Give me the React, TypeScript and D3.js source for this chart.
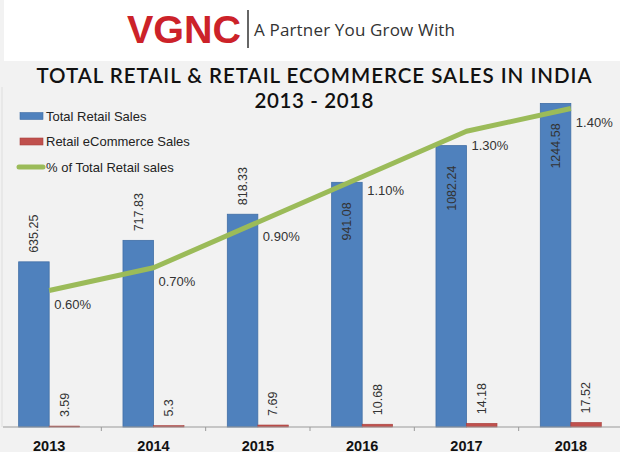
import React, { useEffect, useRef } from 'react';
import * as d3 from 'd3';

const years = ['2013', '2014', '2015', '2016', '2017', '2018'];
const totalRetail = [635.25, 717.83, 818.33, 941.08, 1082.24, 1244.58];
const ecommerce = [3.59, 5.3, 7.69, 10.68, 14.18, 17.52];
const ecomShare = [0.6, 0.7, 0.9, 1.1, 1.3, 1.4];
const seriesNames = ['Total Retail Sales', 'Retail eCommerce Sales', '% of Total Retail sales'];

const W = 620;
const H = 468;
const BLUE = '#4f81bd';
const RED = '#c0504d';
const GREEN = '#9bbb59';

const App: React.FC = () => {
  const svgRef = useRef<SVGSVGElement>(null);

  useEffect(() => {
    if (!svgRef.current) return;
    const svg = d3.select(svgRef.current);
    svg.selectAll('*').remove();

    const base = 427;
    const top = 63;

    // backgrounds
    svg.append('rect').attr('width', W).attr('height', H).attr('fill', '#f2f2f2');
    svg.append('rect').attr('x', 4).attr('y', 0).attr('width', W - 4).attr('height', 61).attr('fill', '#fff');
    svg.append('rect').attr('x', 0).attr('y', 452).attr('width', W).attr('height', H - 452).attr('fill', '#fff');
    svg.append('line')
      .attr('x1', 2).attr('x2', 2).attr('y1', 87).attr('y2', base)
      .attr('stroke', '#dedede').attr('stroke-width', 1);

    // header
    svg.append('text')
      .attr('x', 127).attr('y', 43)
      .attr('font-family', '"Liberation Sans", Arial, sans-serif')
      .attr('font-weight', 'bold')
      .attr('font-size', 39.5)
      .attr('fill', '#cc2229')
      .text('VGNC');
    svg.append('line')
      .attr('x1', 248).attr('x2', 248).attr('y1', 10).attr('y2', 48)
      .attr('stroke', '#333').attr('stroke-width', 1.5);
    svg.append('text')
      .attr('x', 254).attr('y', 36)
      .attr('font-family', '"Open Sans", sans-serif')
      .attr('font-size', 17)
      .attr('fill', '#333')
      .attr('textLength', 201)
      .text('A Partner You Grow With');

    // title
    const title = svg.append('g')
      .attr('font-family', 'Lato, "Open Sans", sans-serif')
      .attr('font-weight', 600)
      .attr('font-size', 20.5)
      .attr('fill', '#111')
      .attr('text-anchor', 'middle');
    title.append('text').attr('x', 314).attr('y', 82.5).attr('textLength', 555)
      .text('TOTAL RETAIL & RETAIL ECOMMERCE SALES IN INDIA');
    title.append('text').attr('x', 314).attr('y', 107.5).attr('textLength', 119)
      .text('2013 - 2018');

    // scales
    const x = d3.scaleBand<string>()
      .domain(years)
      .range([-3, 623])
      .paddingInner(0.415)
      .paddingOuter(0.2075);
    const x1 = d3.scaleBand<string>()
      .domain(['total', 'ecom'])
      .range([0, x.bandwidth()]);
    const y = d3.scaleLinear().domain([0, 1400]).range([base, top]);
    const yPct = d3.scaleLinear().domain([0, 1.6]).range([base, top]);
    const center = (yr: string) => (x(yr) || 0) + x.bandwidth() / 2;

    // bars
    const font = '"Liberation Sans", Arial, sans-serif';
    const g = svg.append('g');
    g.selectAll('.total')
      .data(years)
      .enter()
      .append('rect')
      .attr('x', d => (x(d) || 0) + (x1('total') || 0))
      .attr('width', x1.bandwidth())
      .attr('y', (_d, i) => y(totalRetail[i]))
      .attr('height', (_d, i) => base - y(totalRetail[i]))
      .attr('fill', BLUE)
      .attr('stroke', '#416fa6')
      .attr('stroke-width', 0.8);
    g.selectAll('.ecom')
      .data(years)
      .enter()
      .append('rect')
      .attr('x', d => (x(d) || 0) + (x1('ecom') || 0))
      .attr('width', x1.bandwidth())
      .attr('y', (_d, i) => y(ecommerce[i]))
      .attr('height', (_d, i) => base - y(ecommerce[i]))
      .attr('fill', RED)
      .attr('stroke', '#a8403d')
      .attr('stroke-width', 0.6);

    // axis
    svg.append('line')
      .attr('x1', 3).attr('x2', W).attr('y1', base).attr('y2', base)
      .attr('stroke', '#9a9a9a').attr('stroke-width', 1.2);
    years.slice(1).forEach((_yr, i) => {
      const bx = -3 + x.step() * (i + 1);
      svg.append('line')
        .attr('x1', bx).attr('x2', bx).attr('y1', base).attr('y2', base + 4)
        .attr('stroke', '#9a9a9a').attr('stroke-width', 1);
    });
    svg.append('g')
      .selectAll('text')
      .data(years)
      .enter()
      .append('text')
      .attr('x', d => center(d))
      .attr('y', 451)
      .attr('text-anchor', 'middle')
      .attr('font-family', font)
      .attr('font-weight', 'bold')
      .attr('font-size', 14.5)
      .attr('fill', '#111')
      .text(d => d);

    // bar value labels (rotated)
    const labels = svg.append('g')
      .attr('font-family', font)
      .attr('font-size', 12.5)
      .attr('fill', '#333');
    years.forEach((yr, i) => {
      const cx = (x(yr) || 0) + (x1('total') || 0) + x1.bandwidth() / 2;
      const inside = totalRetail[i] > 900;
      const ty = inside ? y(totalRetail[i]) + 20 : y(totalRetail[i]) - 9;
      labels.append('text')
        .attr('transform', `translate(${cx},${ty}) rotate(-90)`)
        .attr('dy', '0.35em')
        .attr('text-anchor', inside ? 'end' : 'start')
        .text(String(totalRetail[i]));
      const ex = (x(yr) || 0) + (x1('ecom') || 0) + x1.bandwidth() / 2;
      labels.append('text')
        .attr('transform', `translate(${ex},${y(ecommerce[i]) - 9}) rotate(-90)`)
        .attr('dy', '0.35em')
        .attr('text-anchor', 'start')
        .text(String(ecommerce[i]));
    });

    // share line
    const line = d3.line<number>()
      .x((_d, i) => center(years[i]))
      .y(d => yPct(d));
    svg.append('path')
      .datum(ecomShare)
      .attr('d', line)
      .attr('fill', 'none')
      .attr('stroke', GREEN)
      .attr('stroke-width', 5)
      .attr('stroke-linejoin', 'round');
    svg.append('g')
      .attr('font-family', font)
      .attr('font-size', 13)
      .attr('fill', '#333')
      .selectAll('text')
      .data(ecomShare)
      .enter()
      .append('text')
      .attr('x', (_d, i) => center(years[i]) + 5)
      .attr('y', d => yPct(d) + 14)
      .attr('dy', '0.35em')
      .text(d => d3.format('.2f')(d) + '%');

    // legend
    const legend = svg.append('g').attr('font-family', font).attr('font-size', 13).attr('fill', '#222');
    seriesNames.forEach((name, i) => {
      const ly = 116 + i * 25.5;
      if (i < 2) {
        legend.append('rect')
          .attr('x', 20).attr('y', ly - 3.5).attr('width', 23).attr('height', 7)
          .attr('fill', i === 0 ? BLUE : RED)
          .attr('stroke', i === 0 ? '#416fa6' : '#a8403d')
          .attr('stroke-width', 0.6);
      } else {
        legend.append('line')
          .attr('x1', 19).attr('x2', 43).attr('y1', ly).attr('y2', ly)
          .attr('stroke', GREEN).attr('stroke-width', 5).attr('stroke-linecap', 'round');
      }
      legend.append('text').attr('x', 46).attr('y', ly).attr('dy', '0.35em').text(name);
    });
  }, []);

  return (
    <svg
      ref={svgRef}
      width={W}
      height={H}
      style={{ position: 'absolute', left: 0, top: 0, display: 'block' }}
    />
  );
};

export default App;
